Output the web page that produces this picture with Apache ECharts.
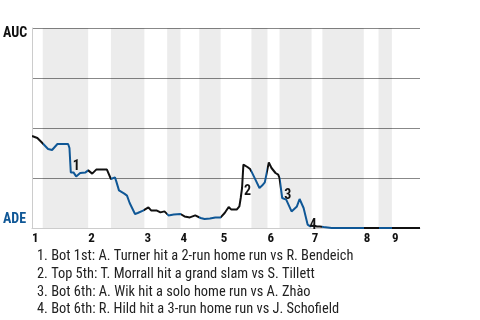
<!DOCTYPE html>
<html><head><meta charset="utf-8">
<script src="https://cdn.jsdelivr.net/npm/echarts@6/dist/echarts.min.js"></script>
<style>html,body{margin:0;padding:0;background:#fff}#c{width:480px;height:320px}</style>
</head><body><div id="c"></div>
<script>
// x = pitch number in the game, y = AUC win probability
const pitch = [0,4,7,8,12,15,16,19,27,28,29,31,33,36,40,42,45,48,56,59,62,63,65,69,71,73,77,79,83,87,89,93,96,97,99,102,106,111,114,118,122,126,129,133,137,141,144,147,149,153,155,156,157,158,161,163,164,167,170,172,174,177,179,182,184,185,187,190,194,198,200,203,206,208,210,213,215,218,224,290];
const winProb = [.46,.45,.43,.425,.395,.39,.395,.42,.42,.40,.278,.278,.258,.275,.278,.288,.272,.292,.292,.245,.253,.233,.188,.172,.162,.125,.07,.075,.087,.103,.088,.088,.078,.075,.083,.063,.067,.07,.058,.053,.063,.05,.045,.047,.053,.053,.075,.105,.092,.092,.108,.15,.2,.317,.305,.295,.283,.242,.2,.212,.228,.328,.3,.275,.267,.25,.15,.142,.083,.108,.145,.1,.017,.008,.012,.008,.008,.005,0,0];
// start pitch of each half inning (top 1st, bot 1st, top 2nd, ...)
const halfStarts = [0,8,42,59,84,101,111,125,141,164,176,185,209,217,248,259,269];
const gameEnd = 290;
const inningLabels = ['1','2','3','4','5','6','7','8','9'];
const teamTop = 'AUC';
const teamBottom = 'ADE';
const eventNums = ['1','2','3','4'];
const eventPitch = [29,157,187,206];
const eventProb = [0.31,0.183,0.162,0.012];
const eventText = [
  'Bot 1st: A. Turner hit a 2-run home run vs R. Bendeich',
  'Top 5th: T. Morrall hit a grand slam vs S. Tillett',
  'Bot 6th: A. Wik hit a solo home run vs A. Zhào',
  'Bot 6th: R. Hild hit a 3-run home run vs J. Schofield'
];

const FONT = "'Roboto Condensed','Liberation Sans Narrow','Arial Narrow','DejaVu Sans Condensed',sans-serif";
const BLUE = '#0f5796';
const BLACK = '#111111';

const inningStarts = halfStarts.filter((s,i)=>i%2===0);
const pieces = halfStarts.map((s,i)=>{
  const e = i+1<halfStarts.length ? halfStarts[i+1] : gameEnd;
  const p = {gte:s, color: i%2 ? BLUE : BLACK};
  if (i+1<halfStarts.length) p.lt = e; else p.lte = e;
  return p;
});
const bands = [];
for (let i=1;i<halfStarts.length;i+=2){
  const e = i+1<halfStarts.length ? halfStarts[i+1] : gameEnd;
  bands.push([{xAxis:halfStarts[i], yAxis:0},{xAxis:e, yAxis:1}]);
}

const chart = echarts.init(document.getElementById('c'), null, {renderer:'canvas'});
chart.setOption({
  animation:false,
  textStyle:{fontFamily:FONT},
  title:{
    left:32, top:243,
    text: eventText.map((t,i)=>eventNums[i]+'. '+t).join('\n'),
    textStyle:{fontFamily:FONT, fontSize:14.4, fontWeight:'normal', color:'#222', lineHeight:17.6}
  },
  grid:{left:32, right:60, top:28, height:200},
  xAxis:{
    type:'value', min:0, max:gameEnd, offset:2,
    axisLine:{show:true, lineStyle:{color:'#cccccc', width:1}},
    axisTick:{show:false},
    splitLine:{show:false},
    axisLabel:{
      customValues: inningStarts,
      formatter:(v)=>{const k=inningStarts.indexOf(v); return k>=0?inningLabels[k]:'';},
      align:'left', margin:2, fontFamily:FONT, fontSize:13, fontWeight:'bold', color:'#111'
    }
  },
  yAxis:{
    type:'value', min:0, max:1, interval:0.25,
    axisLine:{show:true, lineStyle:{color:'#cccccc'}},
    axisTick:{show:false},
    splitLine:{show:true, lineStyle:{color:['rgba(0,0,0,0)','#888888','#888888','#888888','#888888'], width:1}},
    axisLabel:{
      margin:29, align:'left',
      formatter:(v)=> v===1 ? '{t|'+teamTop+'}' : (v===0 ? '{b|'+teamBottom+'}' : ''),
      rich:{
        t:{fontFamily:FONT, fontSize:14, fontWeight:'bold', color:'#111', padding:[10,0,0,0]},
        b:{fontFamily:FONT, fontSize:14, fontWeight:'bold', color:BLUE, padding:[0,0,18,0]}
      }
    }
  },
  visualMap:{type:'piecewise', show:false, dimension:0, seriesIndex:0, pieces:pieces},
  series:[
    {
      type:'line', z:3, symbol:'none', data: pitch.map((p,i)=>[p,winProb[i]]),
      lineStyle:{width:2}
    },
    {
      type:'scatter', z:4, symbolSize:0, silent:true,
      itemStyle:{opacity:1},
      data: eventPitch.map((p,i)=>({value:[p,eventProb[i]], name:eventNums[i]})),
      label:{show:true, position:'right', distance:2, formatter:'{b}', fontFamily:FONT, fontSize:14, fontWeight:'bold', color:'#111', opacity:1}
    },
    {
      type:'line', z:1, data:[], silent:true,
      markArea:{silent:true, itemStyle:{color:'rgba(0,0,0,0.075)'}, data:bands}
    }
  ]
});
</script></body></html>
